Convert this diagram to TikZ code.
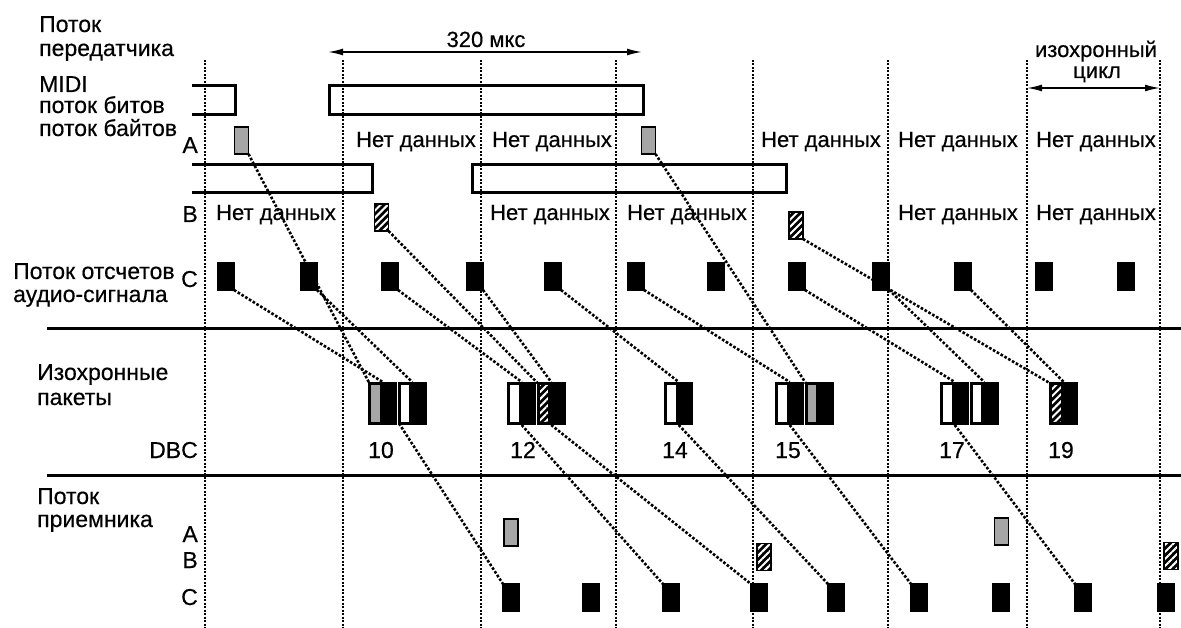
\documentclass[tikz,border=0pt]{standalone}
\usepackage{fontspec}
\setmainfont{Liberation Sans}[FakeBold=0.4]
\usetikzlibrary{arrows.meta,patterns.meta}

\begin{document}
\begin{tikzpicture}[x=1pt, y=-1pt, >={Latex[length=15pt,width=7pt]},
    font=\fontsize{22}{26}\selectfont,
    txt/.style={anchor=base west, inner sep=0pt, font=\fontsize{23}{27}\selectfont},
    lbl/.style={anchor=base east, inner sep=0pt, font=\fontsize{23}{27}\selectfont},
    nd/.style={anchor=base, inner sep=0pt},
    gridln/.style={line width=2pt, dash pattern=on 2pt off 1.5pt},
    sepline/.style={line width=3pt},
    wire/.style={line width=2.6pt, dash pattern=on 2.6pt off 1.8pt},
    bits/.style={line width=3pt},
    smp/.style={draw, line width=1.8pt, minimum width=14pt, minimum height=27pt, inner sep=0pt, outer sep=0pt},
    csmp/.style={smp, fill=black, minimum width=16pt},
    asmp/.style={smp, fill=black!35},
    bsmp/.style={smp, preaction={fill=black}, pattern={Lines[angle=45, distance=5pt, line width=2pt]}, pattern color=white},
    slotk/.style={fill=black, minimum width=14.75pt, minimum height=43pt, inner sep=0pt, outer sep=0pt},
    slotw/.style={draw=black, line width=3pt, fill=white, minimum width=11.75pt, minimum height=40pt, inner sep=0pt, outer sep=0pt},
    slotg/.style={slotw, fill=black!35},
    sloth/.style={slotw, preaction={fill=black}, pattern={Lines[angle=45, distance=5pt, line width=2pt]}, pattern color=white}]
    \useasboundingbox (0,0) rectangle (1181,628);

    % grid of isochronous cycles
    \draw[gridln] (205,60) -- (205,628);
    \draw[gridln] (343,60) -- (343,628);
    \draw[gridln] (481,60) -- (481,628);
    \draw[gridln] (616,60) -- (616,628);
    \draw[gridln] (753,60) -- (753,628);
    \draw[gridln] (888,60) -- (888,628);
    \draw[gridln] (1027,60) -- (1027,628);
    \draw[gridln] (1160,60) -- (1160,628);

    \draw[sepline] (47,329) -- (1181,329);
    \draw[sepline] (47,475) -- (1181,475);

    % left labels
    \node[txt] (tx1) at (39,32) {Поток};
    \node[txt] (tx2) at (39,56) {передатчика};
    \node[txt] (midi1) at (39,92) {MIDI};
    \node[txt] (midi2) at (39,113) {поток битов};
    \node[txt] (midi3) at (39,136) {поток байтов};
    \node[lbl] (la) at (198,153) {A};
    \node[lbl] (lb) at (198,222) {B};
    \node[txt] (aud1) at (13,279) {Поток отсчетов};
    \node[txt] (aud2) at (13,302) {аудио-сигнала};
    \node[lbl] (lc) at (198,287) {C};
    \node[txt] (iso1) at (37,380) {Изохронные};
    \node[txt] (iso2) at (37,405) {пакеты};
    \node[lbl] (dbc) at (198,458) {DBC};
    \node[txt] (rx1) at (37,504) {Поток};
    \node[txt] (rx2) at (37,527) {приемника};
    \node[lbl] (lra) at (198,542) {A};
    \node[lbl] (lrb) at (198,568) {B};
    \node[lbl] (lrc) at (198,605) {C};

    % time spans
    \node[nd] (t320) at (486,47) {320 мкс};
    \coordinate (t320l) at (328,52);
    \coordinate (t320r) at (642,52);
    \draw[<->, line width=1.6pt] (t320l) -- (t320r);
    \node[nd] (cyc1) at (1096,57) {изохронный};
    \node[nd] (cyc2) at (1097,78) {цикл};
    \coordinate (cycl) at (1027,88);
    \coordinate (cycr) at (1160,88);
    \draw[<->, line width=1.6pt] (cycl) -- (cycr);

    % MIDI bit streams
    \draw[bits] (192,86) -- (235,86) -- (235,115) -- (192,115);
    \draw[bits] (329,86) rectangle (643,115);
    \draw[bits] (192,165) -- (372,165) -- (372,193) -- (192,193);
    \draw[bits] (472,165) rectangle (786,193);

    \node[nd] (na1) at (416,147) {Нет данных};
    \node[nd] (na2) at (552,147) {Нет данных};
    \node[nd] (na3) at (821,147) {Нет данных};
    \node[nd] (na4) at (958,147) {Нет данных};
    \node[nd] (na5) at (1096,147) {Нет данных};
    \node[nd] (nb1) at (276,220) {Нет данных};
    \node[nd] (nb2) at (550,220) {Нет данных};
    \node[nd] (nb3) at (687,220) {Нет данных};
    \node[nd] (nb4) at (958,220) {Нет данных};
    \node[nd] (nb5) at (1096,220) {Нет данных};

    % transmitter samples
    \node[asmp] (a1) at (241.5,140.5) {};
    \node[asmp] (a2) at (648.5,140.5) {};
    \node[bsmp] (b1) at (381.5,217.5) {};
    \node[bsmp] (b2) at (796,225.5) {};
    \node[csmp] (c0) at (226,276.5) {};
    \node[csmp] (c1) at (309,276.5) {};
    \node[csmp] (c2) at (390,276.5) {};
    \node[csmp] (c3) at (475,276.5) {};
    \node[csmp] (c4) at (553,276.5) {};
    \node[csmp] (c5) at (636,276.5) {};
    \node[csmp] (c6) at (716,276.5) {};
    \node[csmp] (c7) at (797,276.5) {};
    \node[csmp] (c8) at (881,276.5) {};
    \node[csmp] (c9) at (963,276.5) {};
    \node[csmp] (c10) at (1044,276.5) {};
    \node[csmp] (c11) at (1126,276.5) {};

    % packets
    \node[slotg] (p10-1) at (375.4,403.5) {};
    \node[slotk] (p10-2) at (390.1,403.5) {};
    \node[slotw] (p10-3) at (404.9,403.5) {};
    \node[slotk] (p10-4) at (419.6,403.5) {};
    \node[slotw] (p12-1) at (514.4,403.5) {};
    \node[slotk] (p12-2) at (529.1,403.5) {};
    \node[sloth] (p12-3) at (543.9,403.5) {};
    \node[slotk] (p12-4) at (558.6,403.5) {};
    \node[slotw] (p14-1) at (671.4,403.5) {};
    \node[slotk] (p14-2) at (686.1,403.5) {};
    \node[slotw] (p15-1) at (782.4,403.5) {};
    \node[slotk] (p15-2) at (797.1,403.5) {};
    \node[slotg] (p15-3) at (811.9,403.5) {};
    \node[slotk] (p15-4) at (826.6,403.5) {};
    \node[slotw] (p17-1) at (947.4,403.5) {};
    \node[slotk] (p17-2) at (962.1,403.5) {};
    \node[slotw] (p17-3) at (976.9,403.5) {};
    \node[slotk] (p17-4) at (991.6,403.5) {};
    \node[sloth] (p19-1) at (1056.4,403.5) {};
    \node[slotk] (p19-2) at (1071.1,403.5) {};

    \node[txt] (d10) at (368,458) {10};
    \node[txt] (d12) at (510,458) {12};
    \node[txt] (d14) at (662,458) {14};
    \node[txt] (d15) at (775,458) {15};
    \node[txt] (d17) at (939,458) {17};
    \node[txt] (d19) at (1048,458) {19};

    % receiver samples
    \node[asmp] (rxa1) at (511,532.5) {};
    \node[asmp] (rxa2) at (1001.5,531.5) {};
    \node[bsmp] (rxb1) at (764,557) {};
    \node[bsmp] (rxb2) at (1171,556) {};
    \node[csmp] (rxc0) at (511,597.5) {};
    \node[csmp] (rxc1) at (591,597.5) {};
    \node[csmp] (rxc2) at (671,597.5) {};
    \node[csmp] (rxc3) at (759,597.5) {};
    \node[csmp] (rxc4) at (836,597.5) {};
    \node[csmp] (rxc5) at (919,597.5) {};
    \node[csmp] (rxc6) at (1001,597.5) {};
    \node[csmp] (rxc7) at (1083,597.5) {};
    \node[csmp] (rxc8) at (1166,597.5) {};

    % samples into packets
    \draw[wire] (a1.south east) -- (p10-1.north west);
    \draw[wire] (c0.south east) -- (p10-2.north west);
    \draw[wire] (c1.south east) -- (p10-4.north west);
    \draw[wire] (c2.south east) -- (p12-2.north west);
    \draw[wire] (b1.south east) -- (p12-3.north west);
    \draw[wire] (c3.south east) -- (p12-4.north west);
    \draw[wire] (c4.south east) -- (p14-2.north west);
    \draw[wire] (c5.south east) -- (p15-2.north west);
    \draw[wire] (a2.south east) -- (p15-3.north west);
    \draw[wire] (c7.south east) -- (p17-2.north west);
    \draw[wire] (c8.south east) -- (p17-4.north west);
    \draw[wire] (b2.south east) -- (p19-1.north west);
    \draw[wire] (c9.south east) -- (p19-2.north west);

    % packets out to the receiver
    \draw[wire] (p10-3.south west) -- (rxc0.north west);
    \draw[wire] (p12-2.south west) -- (rxc2.north west);
    \draw[wire] (p12-4.south west) -- (rxc3.north west);
    \draw[wire] (p14-2.south west) -- (rxc4.north west);
    \draw[wire] (p15-2.south west) -- (rxc5.north west);
    \draw[wire] (p17-2.south west) -- (rxc7.north west);
\end{tikzpicture}
\end{document}
